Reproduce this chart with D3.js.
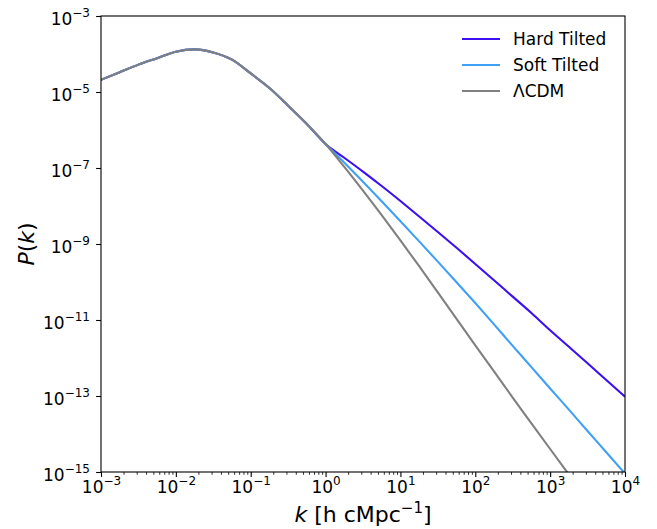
<!DOCTYPE html>
<html>
<head>
<meta charset="utf-8">
<script src="https://cdn.jsdelivr.net/npm/d3@7"></script>
<style>
  body { margin: 0; background: #fff; }
  text { font-family: "DejaVu Sans", sans-serif; fill: #000; }
</style>
</head>
<body>
<div class="chart"></div>
<script>
var svgWidth = 657;
var svgHeight = 529;

var margin = { top: 16, right: 32, bottom: 57, left: 101 };
var width = svgWidth - margin.left - margin.right;
var height = svgHeight - margin.top - margin.bottom;

// data (shared below k = 1)
var kLow = [1e-3, 1.78e-3, 3.16e-3, 5.62e-3, 1e-2, 1.78e-2, 3.16e-2, 5.62e-2, 1e-1, 1.78e-1, 3.16e-1, 5.62e-1, 1];
var pLow = [2.09e-5, 3.31e-5, 5.25e-5, 7.76e-5, 1.15e-4, 1.32e-4, 1.10e-4, 7.1e-5, 3.09e-5, 1.27e-5, 4.37e-6, 1.44e-6, 4.27e-7];

var kHigh = [1.78, 3.16, 5.62, 10, 17.8, 31.6, 56.2, 100, 178, 316, 562, 1000, 1780, 3160, 5620, 10000];
var pHardHigh = [1.86e-7, 8.04e-8, 3.35e-8, 1.35e-8, 5.31e-9, 2.07e-9, 7.94e-10, 2.99e-10, 1.11e-10, 4.12e-11, 1.53e-11, 5.37e-12, 1.97e-12, 7.24e-13, 2.63e-13, 9.55e-14];
var pSoftHigh = [1.38e-7, 4.37e-8, 1.33e-8, 3.98e-9, 1.17e-9, 3.43e-10, 9.89e-11, 2.79e-11, 7.67e-12, 2.09e-12, 5.75e-13, 1.58e-13, 4.37e-14, 1.20e-14, 3.31e-15, 9.1e-16];
var pLcdmHigh = [1.07e-7, 2.54e-8, 5.75e-9, 1.24e-9, 2.60e-10, 5.31e-11, 1.07e-11, 2.16e-12, 4.42e-13, 9.12e-14, 1.91e-14, 4.03e-15, 8.61e-16, 1.86e-16, 4.07e-17, 8.9e-18];

var seriesNames = ["Hard Tilted", "Soft Tilted", "\u039BCDM"];
var seriesColors = ["#3c10f0", "#3fa0f5", "#808080"];

var xMajor = [1e-3, 1e-2, 1e-1, 1, 10, 100, 1000, 10000];
var xExp = ["\u22123", "\u22122", "\u22121", "0", "1", "2", "3", "4"];
var yMajor = [1e-3, 1e-5, 1e-7, 1e-9, 1e-11, 1e-13, 1e-15];
var yExp = ["\u22123", "\u22125", "\u22127", "\u22129", "\u221211", "\u221213", "\u221215"];

var allSeries = [pHardHigh, pSoftHigh, pLcdmHigh].map(function(high, i) {
  var pts = kLow.map((k, j) => ({ k: k, p: pLow[j] }))
    .concat(kHigh.map((k, j) => ({ k: k, p: high[j] })));
  return { name: seriesNames[i], color: seriesColors[i], values: pts };
});

var svg = d3.select(".chart")
  .append("svg")
  .attr("width", svgWidth)
  .attr("height", svgHeight);

var chartGroup = svg.append("g")
  .attr("transform", `translate(${margin.left}, ${margin.top})`);

var xScale = d3.scaleLog().domain([1e-3, 1e4]).range([0, width]);
var yScale = d3.scaleLog().domain([1e-15, 1e-3]).range([height, 0]);

// minor ticks on x
var xMinor = [];
for (var e = -3; e < 4; e++) {
  for (var m = 2; m <= 9; m++) xMinor.push(m * Math.pow(10, e));
}

chartGroup.append("g")
  .attr("transform", `translate(0, ${height})`)
  .call(d3.axisBottom(xScale).tickValues(xMinor).tickSize(2.8).tickFormat(""))
  .call(g => g.select(".domain").remove())
  .call(g => g.selectAll("line").attr("stroke-width", 0.8));

var xAxis = chartGroup.append("g")
  .attr("transform", `translate(0, ${height})`)
  .call(d3.axisBottom(xScale).tickValues(xMajor).tickSize(4.9).tickFormat(""));
xAxis.select(".domain").remove();
xAxis.selectAll("line").attr("stroke-width", 1.1);
xAxis.selectAll(".tick").append("text")
  .attr("y", 21)
  .attr("text-anchor", "middle")
  .style("font-size", "17px")
  .attr("fill", "#000")
  .each(function(d, i) {
    var t = d3.select(this);
    t.append("tspan").text("10");
    t.append("tspan").attr("dy", -8).style("font-size", "12px").text(xExp[i]);
  });

var yAxis = chartGroup.append("g")
  .call(d3.axisLeft(yScale).tickValues(yMajor).tickSize(4.9).tickFormat(""));
yAxis.select(".domain").remove();
yAxis.selectAll("line").attr("stroke-width", 1.1);
yAxis.selectAll(".tick").append("text")
  .attr("x", -11)
  .attr("y", 8)
  .attr("text-anchor", "end")
  .style("font-size", "17px")
  .attr("fill", "#000")
  .each(function(d, i) {
    var t = d3.select(this);
    t.append("tspan").text("10");
    t.append("tspan").attr("dy", -8).style("font-size", "12px").text(yExp[i]);
  });

// curves
svg.append("defs").append("clipPath").attr("id", "plotClip")
  .append("rect").attr("width", width).attr("height", height);

var line = d3.line()
  .x(d => xScale(d.k))
  .y(d => yScale(d.p))
  .curve(d3.curveMonotoneX);

chartGroup.append("g")
  .attr("clip-path", "url(#plotClip)")
  .selectAll("path")
  .data(allSeries)
  .enter()
  .append("path")
  .attr("d", d => line(d.values))
  .attr("fill", "none")
  .attr("stroke", d => d.color)
  .attr("stroke-width", 2.1);

// frame
chartGroup.append("rect")
  .attr("width", width)
  .attr("height", height)
  .attr("fill", "none")
  .attr("stroke", "#000")
  .attr("stroke-width", 1.1);

// legend
var legend = chartGroup.selectAll(".legend")
  .data(allSeries)
  .enter()
  .append("g")
  .attr("transform", (d, i) => `translate(361, ${23 + i * 26})`);
legend.append("line")
  .attr("x1", 0).attr("x2", 38)
  .attr("stroke", d => d.color)
  .attr("stroke-width", 2.1);
legend.append("text")
  .attr("x", 51)
  .attr("y", 6)
  .style("font-size", "17px")
  .text(d => d.name);

// axis labels
var xLabel = svg.append("text")
  .attr("x", margin.left + width / 2)
  .attr("y", 522)
  .attr("text-anchor", "middle")
  .style("font-size", "22px");
xLabel.append("tspan").style("font-style", "italic").text("k");
xLabel.append("tspan").text(" [h cMpc");
xLabel.append("tspan").attr("dy", -9).style("font-size", "15px").text("\u22121");
xLabel.append("tspan").attr("dy", 9).text("]");

var yLabel = svg.append("text")
  .attr("transform", `translate(34, ${margin.top + height / 2}) rotate(-90)`)
  .attr("text-anchor", "middle")
  .style("font-size", "22px");
yLabel.append("tspan").style("font-style", "italic").text("P");
yLabel.append("tspan").text("(");
yLabel.append("tspan").style("font-style", "italic").text("k");
yLabel.append("tspan").text(")");
</script>
</body>
</html>
